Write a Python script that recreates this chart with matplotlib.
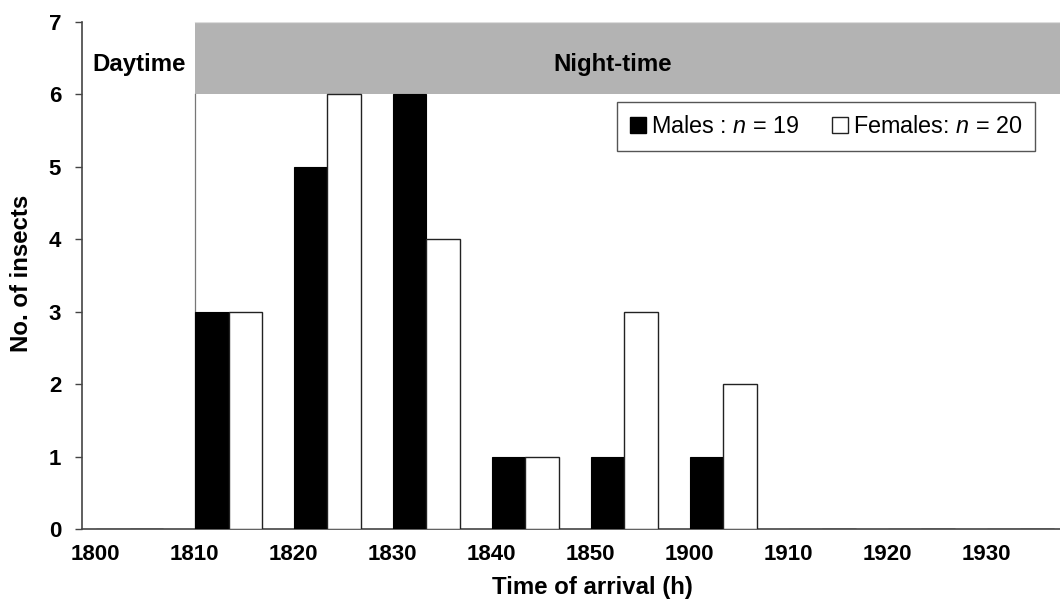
import matplotlib
matplotlib.use("Agg")
import matplotlib.pyplot as plt
from matplotlib.patches import Patch, Rectangle
import numpy as np

plt.rcParams['font.family'] = ['Liberation Sans', 'DejaVu Sans']
plt.rcParams['mathtext.fontset'] = 'custom'
plt.rcParams['mathtext.it'] = 'Liberation Sans:italic'
plt.rcParams['mathtext.rm'] = 'Liberation Sans'

categories = ['1800', '1810', '1820', '1830', '1840', '1850', '1900', '1910', '1920', '1930']
males = [0, 3, 5, 6, 1, 1, 1, 0, 0, 0]
females = [0, 3, 6, 4, 1, 3, 2, 0, 0, 0]
yticks = [0, 1, 2, 3, 4, 5, 6, 7]

fig = plt.figure(figsize=(10.6, 6.01), dpi=100)
ax = fig.add_axes([82/1060, 1-529/601, 1-82/1060, 507/601])

x = np.arange(len(categories))
bw = 0.34
ax.bar(x, males, width=bw, align='edge', color='black', edgecolor='black', linewidth=0.8, zorder=3)
ax.bar(x + bw, females, width=bw, align='edge', color='white', edgecolor='#222222', linewidth=1.0, zorder=3)

xmin, xmax = -0.14, 9.74
ax.set_xlim(xmin, xmax)
ax.set_ylim(0, 7)

# Night-time band
ax.add_patch(Rectangle((1, 6), xmax - 1, 1, facecolor='#b3b3b3', edgecolor='none', zorder=1))
ax.plot([1, 1], [0, 6], color='#777777', lw=0.9, zorder=2)
ax.plot([1, xmax], [7, 7], color='#dddddd', lw=0.9, zorder=2)

ax.text(0.44, 6.42, 'Daytime', ha='center', va='center', fontsize=17.3, fontweight='bold')
ax.text(5.22, 6.42, 'Night-time', ha='center', va='center', fontsize=17.3, fontweight='bold')

ax.set_xticks(x)
ax.set_xticklabels(categories)
ax.set_yticks(yticks)
ax.tick_params(axis='x', length=0, pad=11, labelsize=16)
ax.tick_params(axis='y', length=5, width=1, direction='out', pad=10, labelsize=16, color='#444444')
for lab in ax.get_xticklabels() + ax.get_yticklabels():
    lab.set_fontweight('bold')

for s in ['top', 'right']:
    ax.spines[s].set_visible(False)
for s in ['left', 'bottom']:
    ax.spines[s].set_color('#444444')
    ax.spines[s].set_linewidth(1.2)

ax.set_xlabel('Time of arrival (h)', fontsize=17.3, fontweight='bold')
ax.xaxis.set_label_coords((592-82)/978, -(576-529)/507)
ax.set_ylabel('No. of insects', fontsize=17.3, fontweight='bold')
ax.yaxis.set_label_coords(-(82-33)/978, (529-273)/507)

handles = [Patch(facecolor='black', edgecolor='black'),
           Patch(facecolor='white', edgecolor='#222222', linewidth=1.0)]
labels = ['Males : $n$ = 19', 'Females: $n$ = 20']
leg = ax.legend(handles, labels, ncol=2, loc='upper right',
                bbox_to_anchor=((1035-82)/978, (529-102)/507), borderaxespad=0,
                fontsize=16.8, frameon=True, fancybox=False, framealpha=1,
                handlelength=0.7, handleheight=0.7, handletextpad=0.2,
                columnspacing=1.4, borderpad=0.55)
leg.get_frame().set_edgecolor('#555555')
leg.get_frame().set_linewidth(1.0)
leg.set_zorder(5)

fig.savefig('out.png', dpi=100)
